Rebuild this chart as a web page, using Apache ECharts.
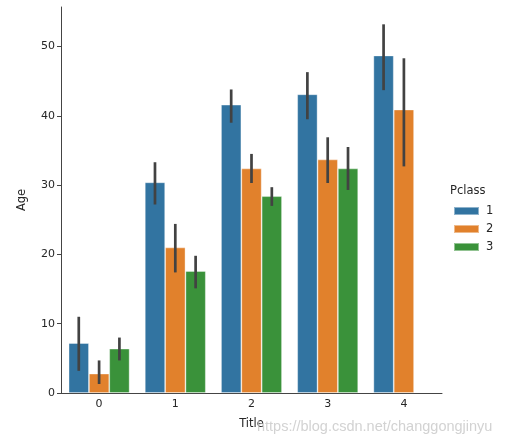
<!DOCTYPE html>
<html>
<head>
<meta charset="utf-8">
<script src="https://cdn.jsdelivr.net/npm/echarts@6/dist/echarts.min.js"></script>
<style>
html,body{margin:0;padding:0;background:#fff;}
#chart{width:522px;height:447px;}
</style>
</head>
<body>
<div id="chart"></div>
<script>
var categories = ['0', '1', '2', '3', '4'];
var classNames = ['1', '2', '3'];
var ageClass1 = [7.2, 30.4, 41.6, 43.1, 48.7];
var ageClass2 = [2.8, 21.0, 32.4, 33.7, 40.9];
var ageClass3 = [6.4, 17.6, 28.4, 32.4, '-'];
var lowClass1 = [3.2, 27.2, 39.0, 39.5, 43.7];
var highClass1 = [11.0, 33.3, 43.8, 46.3, 53.2];
var lowClass2 = [1.3, 17.4, 30.3, 30.3, 32.7];
var highClass2 = [4.7, 24.4, 34.5, 36.9, 48.3];
var lowClass3 = [4.7, 15.1, 27.0, 29.3, '-'];
var highClass3 = [8.0, 19.8, 29.7, 35.5, '-'];

var colors = ['#3274a1', '#e1812c', '#3a923a'];
var values = [ageClass1, ageClass2, ageClass3];
var lows = [lowClass1, lowClass2, lowClass3];
var highs = [highClass1, highClass2, highClass3];

var chart = echarts.init(document.getElementById('chart'));
var textColor = '#262626';
var font = 'DejaVu Sans';

var series = [];
classNames.forEach(function (name, i) {
  series.push({
    name: name,
    type: 'bar',
    data: values[i],
    barGap: '0%',
    barCategoryGap: '20%',
    itemStyle: { color: colors[i], borderColor: 'rgba(255,255,255,0.45)', borderWidth: 0.8 },
    emphasis: { disabled: true }
  });
});
classNames.forEach(function (name, i) {
  var d = [];
  for (var k = 0; k < categories.length; k++) {
    if (lows[i][k] !== '-') d.push([k, lows[i][k], highs[i][k]]);
  }
  series.push({
    type: 'custom',
    name: 'err' + name,
    z: 10,
    silent: true,
    data: d,
    encode: { x: 0, y: [1, 2] },
    renderItem: function (params, api) {
      var k = api.value(0);
      var p1 = api.coord([k, api.value(1)]);
      var p2 = api.coord([k, api.value(2)]);
      var band = api.size([1, 0])[0];
      var bw = band * 0.8 / 3;
      var x = p1[0] + (i - 1) * bw;
      return {
        type: 'line',
        shape: { x1: x, y1: p1[1], x2: x, y2: p2[1] },
        style: { stroke: '#424242', lineWidth: 2.7 }
      };
    }
  });
});

chart.setOption({
  animation: false,
  textStyle: { fontFamily: font },
  grid: { left: 61, right: 80, top: 7, bottom: 54, containLabel: false },
  legend: {
    data: classNames,
    orient: 'vertical',
    left: 448,
    top: 200,
    itemWidth: 25,
    itemHeight: 8,
    itemGap: 6,
    textStyle: { fontFamily: font, fontSize: 11.5, color: textColor, padding: [0, 0, 0, 2] },
    icon: 'rect'
  },
  graphic: [
    {
      type: 'text',
      left: 450,
      top: 185,
      style: { text: 'Pclass', fontFamily: font, fontSize: 11.5, fill: textColor }
    },
    {
      type: 'text',
      left: 257,
      top: 419,
      z: 100,
      style: { text: 'https://blog.csdn.net/changgongjinyu', fontFamily: 'Liberation Sans', fontSize: 14.5, fill: 'rgba(195,195,195,0.75)' }
    }
  ],
  xAxis: {
    type: 'category',
    data: categories,
    name: 'Title',
    nameLocation: 'middle',
    nameGap: 25,
    nameTextStyle: { fontFamily: font, fontSize: 11.5, color: textColor },
    axisLine: { lineStyle: { color: '#444', width: 1 } },
    axisTick: { alignWithLabel: true, length: 4, lineStyle: { color: '#444' } },
    axisLabel: { fontFamily: font, fontSize: 11, color: textColor, margin: 6 },
    splitLine: { show: false }
  },
  yAxis: {
    type: 'value',
    min: 0,
    max: 55.7,
    interval: 10,
    name: 'Age',
    nameLocation: 'middle',
    nameGap: 33,
    nameTextStyle: { fontFamily: font, fontSize: 11.5, color: textColor },
    axisLine: { show: true, lineStyle: { color: '#444', width: 1 } },
    axisTick: { show: true, length: 4, lineStyle: { color: '#444' } },
    axisLabel: { fontFamily: font, fontSize: 11, color: textColor, margin: 6, showMaxLabel: false },
    splitLine: { show: false }
  },
  series: series
});
</script>
</body>
</html>
